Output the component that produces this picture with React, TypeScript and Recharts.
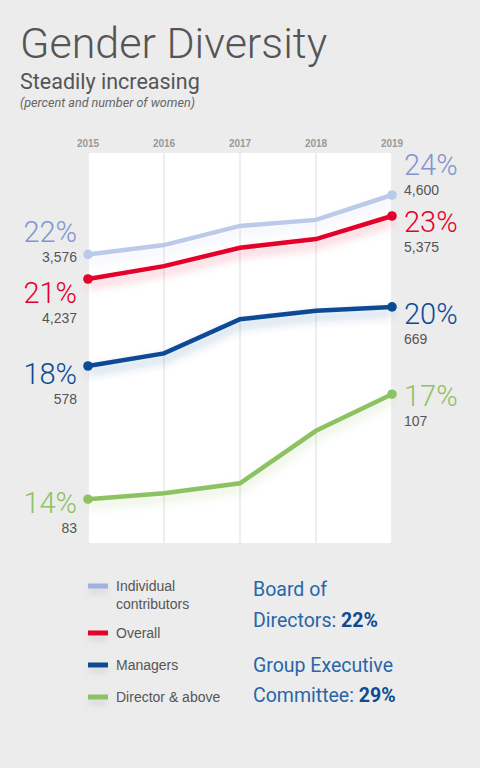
import React from 'react';
import { LineChart, Line, XAxis, YAxis, CartesianGrid, LabelList } from 'recharts';

const years = ['2015', '2016', '2017', '2018', '2019'];
const individual = [22.12, 22.43, 23.07, 23.27, 24.1];
const overall = [21.3, 21.73, 22.34, 22.63, 23.4];
const managers = [18.4, 18.82, 19.96, 20.24, 20.37];
const director = [13.96, 14.16, 14.49, 16.24, 17.46];

const startPct = ['22%', '21%', '18%', '14%'];
const startCount = ['3,576', '4,237', '578', '83'];
const endPct = ['24%', '23%', '20%', '17%'];
const endCount = ['4,600', '5,375', '669', '107'];

const seriesNames = ['Individual contributors', 'Overall', 'Managers', 'Director & above'];
const seriesKeys = ['individual', 'overall', 'managers', 'director'];

const styles = [
  { line: '#BCCAEA', legend: '#9FB2E0', text: '#7F95D0', leftDy: -22, rightDy: -30 },
  { line: '#E4002B', legend: '#E4002B', text: '#E4002B', leftDy: 14, rightDy: 6 },
  { line: '#0B4A94', legend: '#0B4A94', text: '#0B4A94', leftDy: 8, rightDy: 7 },
  { line: '#8DC263', legend: '#8DC263', text: '#8DC263', leftDy: 4, rightDy: 2 },
];

const data = years.map((year, i) => ({
  year,
  individual: individual[i],
  overall: overall[i],
  managers: managers[i],
  director: director[i],
}));

const FONT = 'Roboto, "Liberation Sans", sans-serif';
const SMALL = '"Liberation Sans", Arial, sans-serif';
const last = years.length - 1;

function makeDot(color: string) {
  return (props: any) => {
    const { cx, cy, index } = props;
    if (index !== 0 && index !== last) return <g key={`d${index}`} />;
    return <circle key={`d${index}`} cx={cx} cy={cy} r={4.8} fill={color} />;
  };
}

function makeLabel(si: number) {
  const st = styles[si];
  return (props: any) => {
    const { x, y, index } = props;
    if (index !== 0 && index !== last) return null;
    const left = index === 0;
    const tx = left ? x - 11 : x + 12;
    const dy = left ? st.leftDy : st.rightDy;
    const pct = left ? startPct[si] : endPct[si];
    const cnt = left ? startCount[si] : endCount[si];
    return (
      <g>
        <text x={tx} y={y + dy} textAnchor={left ? 'end' : 'start'} dominantBaseline="central"
          fontFamily={FONT} fontWeight={300} fontSize={29} fill={st.text}>{pct}</text>
        <text x={tx} y={y + dy + 25} textAnchor={left ? 'end' : 'start'} dominantBaseline="central"
          fontFamily={SMALL} fontSize={14} fill="#555">{cnt}</text>
      </g>
    );
  };
}

export default function App() {
  return (
    <div style={{ position: 'absolute', left: 0, top: 0, width: 480, height: 768, background: '#ECECEC', overflow: 'hidden' }}>
      <style>{seriesKeys.map((k) => `.glow-${k} .recharts-line-curve{filter:url(#glow-${k});}`).join('\n')}</style>
      <svg width={0} height={0} style={{ position: 'absolute' }}>
        <defs>
          {seriesKeys.map((k, i) => (
            <filter key={k} id={`glow-${k}`} filterUnits="userSpaceOnUse" x={0} y={0} width={480} height={768}>
              <feDropShadow dx={0} dy={6} stdDeviation={5} floodColor={styles[i].line} floodOpacity={0.3} />
            </filter>
          ))}
          <filter id="glow-legend" filterUnits="userSpaceOnUse" x={0} y={0} width={480} height={768}>
            <feDropShadow dx={0} dy={5} stdDeviation={3} floodColor="#999" floodOpacity={0.25} />
          </filter>
        </defs>
      </svg>
      <svg width={480} height={768} style={{ position: 'absolute', left: 0, top: 0 }}>
        <text x={20} y={58} fontFamily={FONT} fontWeight={300} fontSize={43} fill="#555">Gender Diversity</text>
        <text x={20} y={89} fontFamily={FONT} fontSize={21.5} fill="#555">Steadily increasing</text>
        <text x={20} y={107} fontFamily={FONT} fontStyle="italic" fontSize={12.6} fill="#666">(percent and number of women)</text>
        {seriesNames.map((n, i) => {
          const ys = [586, 633, 665, 697];
          const parts = n === 'Individual contributors' ? ['Individual', 'contributors'] : [n];
          return (
            <g key={n}>
              <rect x={88} y={ys[i] - 2.5} width={20} height={5} fill={styles[i].legend} filter="url(#glow-legend)" />
              {parts.map((p, j) => (
                <text key={p} x={116} y={ys[i] + j * 18} dominantBaseline="central" fontFamily={SMALL} fontSize={14} fill="#555">{p}</text>
              ))}
            </g>
          );
        })}
        <g fontFamily={FONT} fontSize={19.5} fill="#2866A8">
          <text x={253} y={589} dominantBaseline="central">Board of</text>
          <text x={253} y={620} dominantBaseline="central">Directors: <tspan fontWeight={700} fill="#0C4A92">22%</tspan></text>
          <text x={253} y={665} dominantBaseline="central">Group Executive</text>
          <text x={253} y={695} dominantBaseline="central">Committee: <tspan fontWeight={700} fill="#0C4A92">29%</tspan></text>
        </g>
      </svg>
      <div style={{ position: 'absolute', left: 0, top: 0 }}>
        <LineChart width={480} height={560} data={data} margin={{ top: 123, right: 88, bottom: 17, left: 88 }}>
          <CartesianGrid horizontal={false} vertical stroke="#EEEEEE" strokeWidth={2} fill="#FFFFFF" />
          <XAxis dataKey="year" orientation="top" height={30} interval={0} tickLine={false} axisLine={false}
            tick={{ fontSize: 10, fontWeight: 700, fill: '#999999', fontFamily: SMALL }} tickMargin={0} />
          <YAxis hide domain={[12.5, 25.5]} />
          {seriesKeys.map((k, i) => (
            <Line key={k} className={`glow-${k}`} type="linear" dataKey={k} name={seriesNames[i]}
              stroke={styles[i].line} strokeWidth={4.5} dot={makeDot(styles[i].line)} activeDot={false}
              isAnimationActive={false}>
              <LabelList dataKey={k} content={makeLabel(i)} />
            </Line>
          ))}
        </LineChart>
      </div>
    </div>
  );
}
